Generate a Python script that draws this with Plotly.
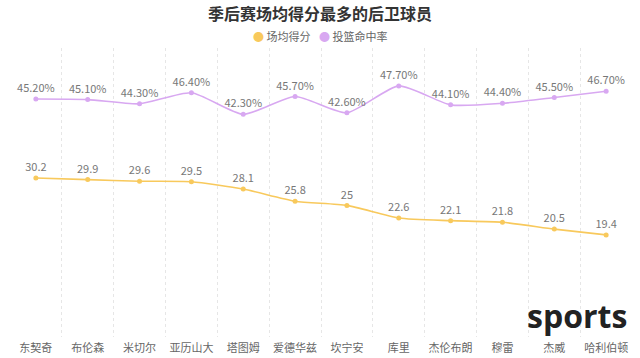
import plotly.graph_objects as go

players = ["东契奇", "布伦森", "米切尔", "亚历山大", "塔图姆", "爱德华兹",
           "坎宁安", "库里", "杰伦布朗", "穆雷", "杰威", "哈利伯顿"]
ppg = [30.2, 29.9, 29.6, 29.5, 28.1, 25.8, 25, 22.6, 22.1, 21.8, 20.5, 19.4]
fg_pct = [45.2, 45.1, 44.3, 46.4, 42.3, 45.7, 42.6, 47.7, 44.1, 44.4, 45.5, 46.7]

name_ppg = "场均得分"
name_fg = "投篮命中率"
c_ppg = "#f8c95c"
c_fg = "#d8a8f1"
font_fam = "Noto Sans CJK SC, Noto Sans, sans-serif"

fig = go.Figure()
fig.add_trace(go.Scatter(
    x=players, y=ppg, mode="lines+markers+text", name=name_ppg,
    line=dict(color=c_ppg, width=1.6, shape="spline", smoothing=0.6),
    marker=dict(color=c_ppg, size=5),
    text=[f"{v:g}" for v in ppg], textposition="top center",
    textfont=dict(color="#777", size=11), showlegend=False,
    cliponaxis=False,
))
fig.add_trace(go.Scatter(
    x=players, y=fg_pct, mode="lines+markers+text", name=name_fg,
    line=dict(color=c_fg, width=1.6, shape="spline", smoothing=0.6),
    marker=dict(color=c_fg, size=5),
    text=[f"{v:.2f}%" for v in fg_pct], textposition="top center",
    textfont=dict(color="#777", size=11), showlegend=False,
    cliponaxis=False,
))

legend_annots = [
    dict(text=f"<span style='color:{c_ppg}'>●</span> {name_ppg}", xref="paper", yref="paper",
         x=0.4855, y=1.04, xanchor="right", yanchor="middle", showarrow=False,
         font=dict(size=11, color="#666")),
    dict(text=f"<span style='color:{c_fg}'>●</span> {name_fg}", xref="paper", yref="paper",
         x=0.4936, y=1.04, xanchor="left", yanchor="middle", showarrow=False,
         font=dict(size=11, color="#666")),
]

fig.update_layout(
    width=640, height=358,
    margin=dict(l=10, r=8, t=48, b=21),
    paper_bgcolor="white", plot_bgcolor="white",
    showlegend=False,
    font=dict(family=font_fam, color="#666", size=11),
    title=dict(text="<b>季后赛场均得分最多的后卫球员</b>", x=0.5, xanchor="center",
               y=0.96, yanchor="middle",
               font=dict(size=16, color="#333", family=font_fam)),
    xaxis=dict(type="category", range=[-0.499, 11.499], tickson="boundaries",
               showgrid=True, gridcolor="#e6e6e6", griddash="dot", gridwidth=1,
               showline=False, zeroline=False, ticks="", ticklen=0,
               tickangle=0, automargin=False, ticklabelstandoff=3,
               tickfont=dict(size=11, color="#666")),
    yaxis=dict(range=[0, 54.9], visible=False, showgrid=False, zeroline=False),
    annotations=legend_annots + [
        dict(text="<b>sports</b>", xref="paper", yref="paper",
             x=0.995, y=-0.006, xanchor="right", yanchor="bottom",
             showarrow=False,
             font=dict(size=32, color="#222", family="Open Sans, sans-serif"))],
)

fig.write_html("out.html", config={"displayModeBar": False},
               post_script="document.body.style.margin='0';")
